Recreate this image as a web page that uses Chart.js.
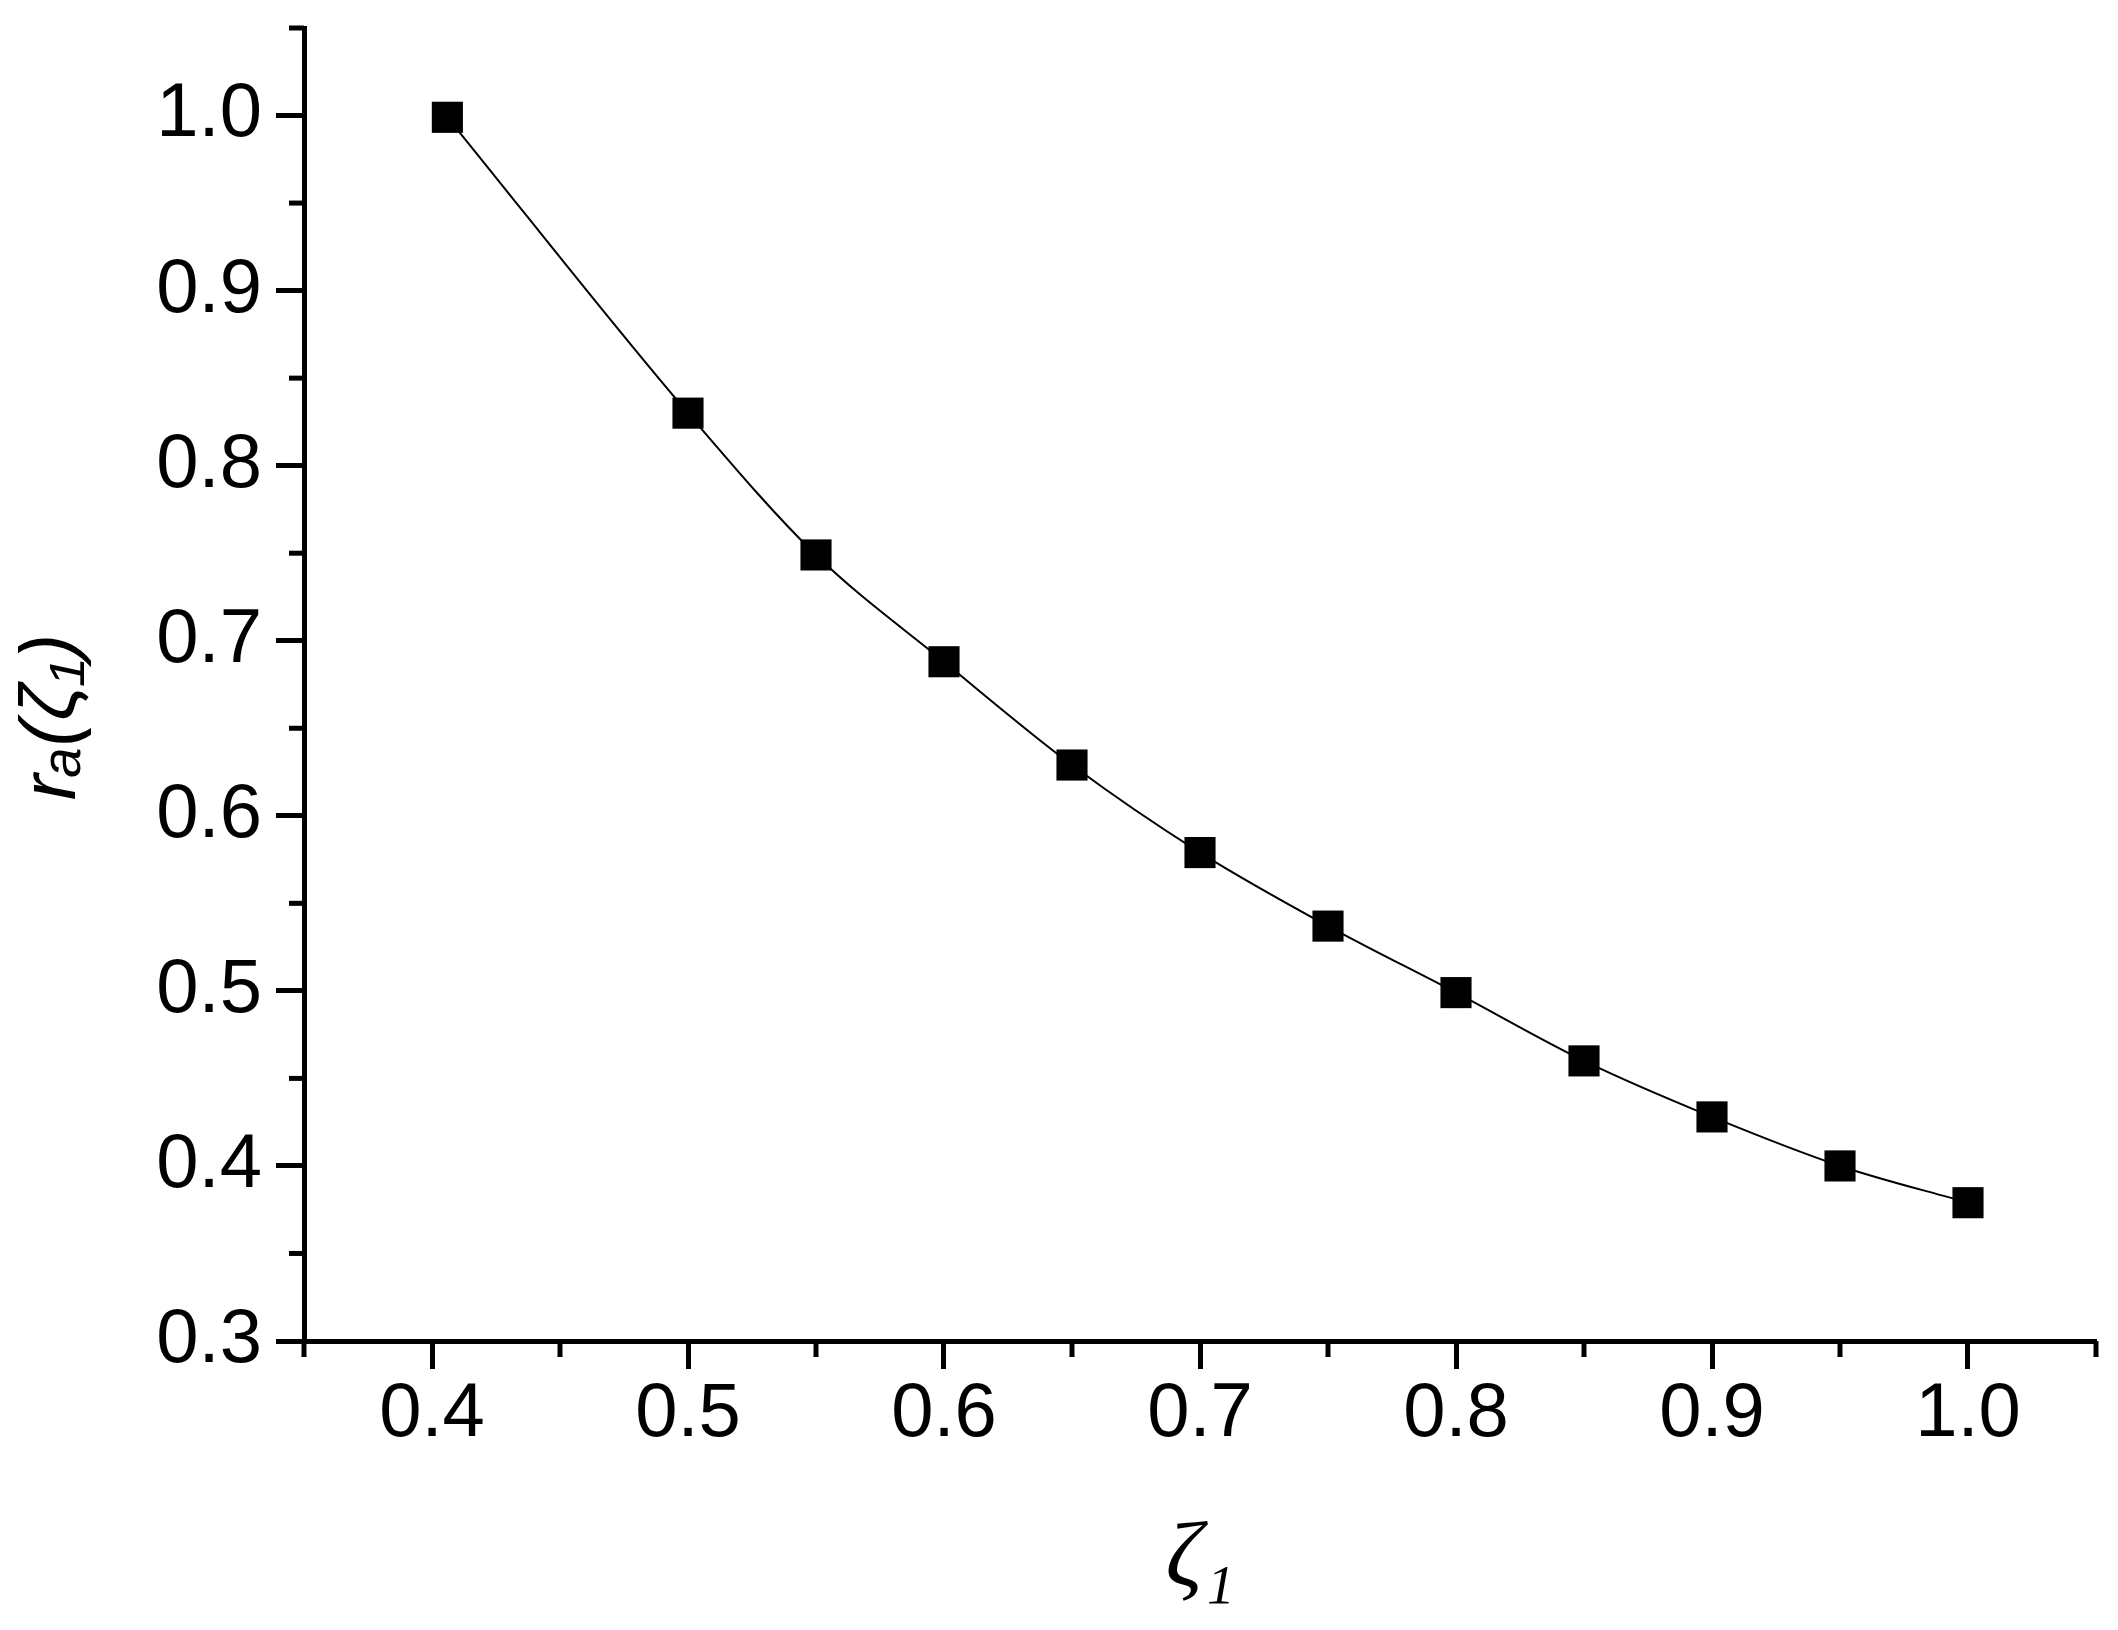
<!DOCTYPE html>
<html>
<head>
<meta charset="utf-8">
<script src="https://cdn.jsdelivr.net/npm/chart.js@4.4.1/dist/chart.umd.min.js"></script>
<style>
  html, body { margin: 0; padding: 0; background: #ffffff; }
  #wrap { width: 2118px; height: 1630px; }
</style>
</head>
<body>
<div id="wrap"><canvas id="c" width="2118" height="1630"></canvas></div>
<script>
// ---- data ----
const xValues = [0.406, 0.50, 0.55, 0.60, 0.65, 0.70, 0.75, 0.80, 0.85, 0.90, 0.95, 1.00];
const yValues = [0.999, 0.830, 0.749, 0.688, 0.629, 0.579, 0.537, 0.499, 0.460, 0.428, 0.400, 0.379];

const xMajorTicks = [0.4, 0.5, 0.6, 0.7, 0.8, 0.9, 1.0];
const xTickLabels = ['0.4', '0.5', '0.6', '0.7', '0.8', '0.9', '1.0'];
const xMinorTicks = [0.35, 0.45, 0.55, 0.65, 0.75, 0.85, 0.95, 1.05];

const yMajorTicks = [0.3, 0.4, 0.5, 0.6, 0.7, 0.8, 0.9, 1.0];
const yTickLabels = ['0.3', '0.4', '0.5', '0.6', '0.7', '0.8', '0.9', '1.0'];
const yMinorTicks = [0.35, 0.45, 0.55, 0.65, 0.75, 0.85, 0.95, 1.05];

const xTitle = 'ζ₁';
const yTitle = 'rₐ(ζ₁)';

// ---- minor ticks drawn through the chart's own scales ----
const minorTicksPlugin = {
  id: 'minorTicks',
  afterDraw(chart) {
    const ctx = chart.ctx;
    const xs = chart.scales.x, ys = chart.scales.y;
    ctx.save();
    ctx.strokeStyle = '#000';
    ctx.lineWidth = 5;
    ctx.lineCap = 'butt';
    xMinorTicks.forEach(v => {
      const px = xs.getPixelForValue(v);
      ctx.beginPath();
      ctx.moveTo(px, xs.top);
      ctx.lineTo(px, xs.top + 16);
      ctx.stroke();
    });
    yMinorTicks.forEach(v => {
      const py = ys.getPixelForValue(v);
      ctx.beginPath();
      ctx.moveTo(ys.right, py);
      ctx.lineTo(ys.right - 15, py);
      ctx.stroke();
    });
    ctx.restore();
  }
};

const tickFont = { family: '"Liberation Sans", Arial, sans-serif', size: 76 };

new Chart(document.getElementById('c'), {
  type: 'line',
  data: {
    datasets: [{
      data: xValues.map((x, i) => ({ x: x, y: yValues[i] })),
      borderColor: '#000',
      borderWidth: 2,
      cubicInterpolationMode: 'monotone',
      pointStyle: 'rect',
      pointRadius: 22,
      pointBackgroundColor: '#000',
      pointBorderColor: '#000',
      pointBorderWidth: 0,
      fill: false
    }]
  },
  options: {
    responsive: false,
    devicePixelRatio: 1,
    animation: false,
    layout: { padding: { top: 28, right: 22, left: 0, bottom: 0 } },
    plugins: { legend: { display: false }, tooltip: { enabled: false } },
    scales: {
      x: {
        type: 'linear',
        min: 0.35,
        max: 1.05,
        afterBuildTicks: s => { s.ticks = xMajorTicks.map(v => ({ value: v })); },
        afterFit: s => { s.height = 289; s.paddingLeft = 0; s.paddingRight = 0; },
        border: { display: true, color: '#000', width: 5 },
        grid: { display: true, drawOnChartArea: false, drawTicks: true, tickLength: 28, tickWidth: 5, tickColor: '#000' },
        ticks: {
          autoSkip: false, maxRotation: 0, minRotation: 0,
          padding: 0, color: '#000', font: tickFont,
          callback: (v, i) => xTickLabels[i]
        },
        title: {
          display: true, text: xTitle, color: '#000',
          font: { family: '"Liberation Serif", "DejaVu Serif", serif', size: 92, style: 'italic' },
          padding: { top: 0, bottom: 14 }
        }
      },
      y: {
        type: 'linear',
        min: 0.3,
        max: 1.05,
        afterBuildTicks: s => { s.ticks = yMajorTicks.map(v => ({ value: v })); },
        afterFit: s => { s.width = 304; s.paddingTop = 0; s.paddingBottom = 0; },
        border: { display: true, color: '#000', width: 5 },
        grid: { display: true, drawOnChartArea: false, drawTicks: true, tickLength: 28, tickWidth: 5, tickColor: '#000' },
        ticks: {
          autoSkip: false, padding: 14, color: '#000', font: tickFont,
          callback: (v, i) => yTickLabels[i]
        },
        title: {
          display: true, text: yTitle + '   ', color: '#000',
          font: { family: '"Liberation Sans", Arial, sans-serif', size: 78, style: 'italic' },
          padding: { top: 6, bottom: 0 }
        }
      }
    }
  },
  plugins: [minorTicksPlugin]
});
</script>
</body>
</html>
